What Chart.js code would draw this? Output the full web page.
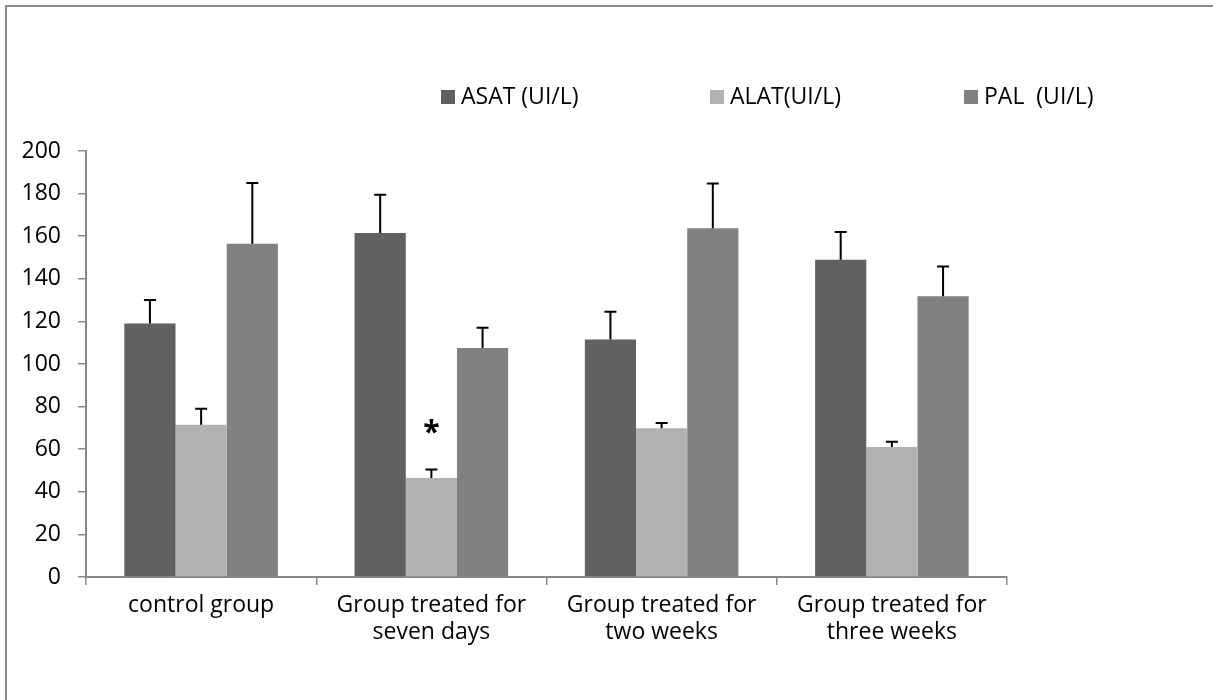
<!DOCTYPE html>
<html>
<head>
<meta charset="utf-8">
<script src="https://cdn.jsdelivr.net/npm/chart.js@4.4.0/dist/chart.umd.min.js"></script>
<style>
  html, body { margin: 0; padding: 0; background: #fff; }
  .wrap { position: relative; width: 1213px; height: 700px; overflow: hidden; }
  .frame {
    position: absolute; left: 5px; top: 5px; right: -10px; bottom: -10px;
    border-left: 2px solid #8a8a8a; border-top: 2px solid #8a8a8a;
    pointer-events: none;
  }
  canvas { position: absolute; left: 0; top: 0; }
</style>
</head>
<body>
<div class="wrap">
  <canvas id="chart" width="1213" height="700"></canvas>
  <div class="frame"></div>
</div>
<script>
// data
const categories = [
    ["control group"],
    ["Group treated for", "seven days"],
    ["Group treated for", "two weeks"],
    ["Group treated for", "three weeks"]
];
const seriesNames = ["ASAT (UI/L)", "ALAT(UI/L)", "PAL  (UI/L)"];
const asatValues = [119, 161.5, 111.5, 149];
const alatValues = [71.5, 46.5, 69.8, 61];
const palValues = [156.5, 107.5, 163.7, 131.8];
// upper error bar lengths
const asatErrors = [11, 18, 13, 13];
const alatErrors = [7.5, 4, 2.5, 2.5];
const palErrors = [28.5, 9.5, 21, 14];
const alatMarks = ["", "*", "", ""];
const yTicks = [0, 20, 40, 60, 80, 100, 120, 140, 160, 180, 200];

const FONT = "'Open Sans', sans-serif";
const axisColor = '#888888';

// error bars + significance star
const errorBars = {
    id: 'errorBars',
    afterDatasetsDraw(chart) {
        const ctx = chart.ctx;
        const y = chart.scales.y;
        ctx.save();
        chart.data.datasets.forEach((ds, i) => {
            const meta = chart.getDatasetMeta(i);
            meta.data.forEach((bar, j) => {
                const top = y.getPixelForValue(ds.data[j] + ds.errors[j]);
                ctx.strokeStyle = '#000';
                ctx.lineWidth = 2;
                ctx.beginPath();
                ctx.moveTo(bar.x, bar.y);
                ctx.lineTo(bar.x, top);
                ctx.moveTo(bar.x - 6, top);
                ctx.lineTo(bar.x + 6, top);
                ctx.stroke();

                if (ds.marks && ds.marks[j]) {
                    ctx.fillStyle = '#000';
                    ctx.font = "bold 30px " + FONT;
                    ctx.textAlign = 'center';
                    ctx.textBaseline = 'middle';
                    ctx.fillText(ds.marks[j], bar.x, top - 36);
                }
            });
        });
        ctx.restore();
    }
};

// legend placed like the original (row at top right)
const topLegend = {
    id: 'topLegend',
    afterDraw(chart, args, opts) {
        const ctx = chart.ctx;
        ctx.save();
        ctx.font = "23px " + FONT;
        ctx.textBaseline = 'middle';
        ctx.textAlign = 'left';
        chart.data.datasets.forEach((ds, i) => {
            const x = opts.x[i];
            ctx.fillStyle = ds.backgroundColor;
            ctx.fillRect(x, opts.y - 7, 14, 14);
            ctx.fillStyle = '#000';
            ctx.fillText(ds.label, x + 20, opts.y);
        });
        ctx.restore();
    }
};

document.addEventListener("DOMContentLoaded", function () {
    const ctx = document.getElementById('chart').getContext('2d');

    new Chart(ctx, {
        type: 'bar',
        data: {
            labels: categories,
            datasets: [
                { label: seriesNames[0], data: asatValues, errors: asatErrors, backgroundColor: '#616161' },
                { label: seriesNames[1], data: alatValues, errors: alatErrors, marks: alatMarks, backgroundColor: '#b2b2b2' },
                { label: seriesNames[2], data: palValues, errors: palErrors, backgroundColor: '#818181' }
            ]
        },
        options: {
            responsive: false,
            animation: false,
            devicePixelRatio: 1,
            layout: {
                padding: { left: 0, top: 151, right: 206, bottom: 0 }
            },
            datasets: {
                bar: {
                    categoryPercentage: 0.667,
                    barPercentage: 1
                }
            },
            plugins: {
                legend: { display: false },
                tooltip: { enabled: false },
                topLegend: { x: [441, 710, 964], y: 97 }
            },
            scales: {
                x: {
                    grid: {
                        offset: true,
                        drawOnChartArea: false,
                        drawTicks: true,
                        tickLength: 8,
                        color: axisColor,
                        lineWidth: 1.5
                    },
                    border: { color: axisColor, width: 2 },
                    ticks: {
                        color: '#000',
                        padding: 7,
                        maxRotation: 0,
                        font: { family: FONT, size: 23, lineHeight: 1.17 }
                    },
                    afterFit: function (scale) {
                        scale.height = 123;
                    }
                },
                y: {
                    min: 0,
                    max: 200,
                    grid: {
                        drawOnChartArea: false,
                        drawTicks: true,
                        tickLength: 8,
                        color: axisColor,
                        lineWidth: 1.5
                    },
                    border: { color: axisColor, width: 2 },
                    ticks: {
                        color: '#000',
                        padding: 17,
                        font: { family: FONT, size: 23 }
                    },
                    afterBuildTicks: function (scale) {
                        scale.ticks = yTicks.map(v => ({ value: v }));
                    },
                    afterFit: function (scale) {
                        scale.width = 86;
                    }
                }
            }
        },
        plugins: [errorBars, topLegend]
    });
});
</script>
</body>
</html>
